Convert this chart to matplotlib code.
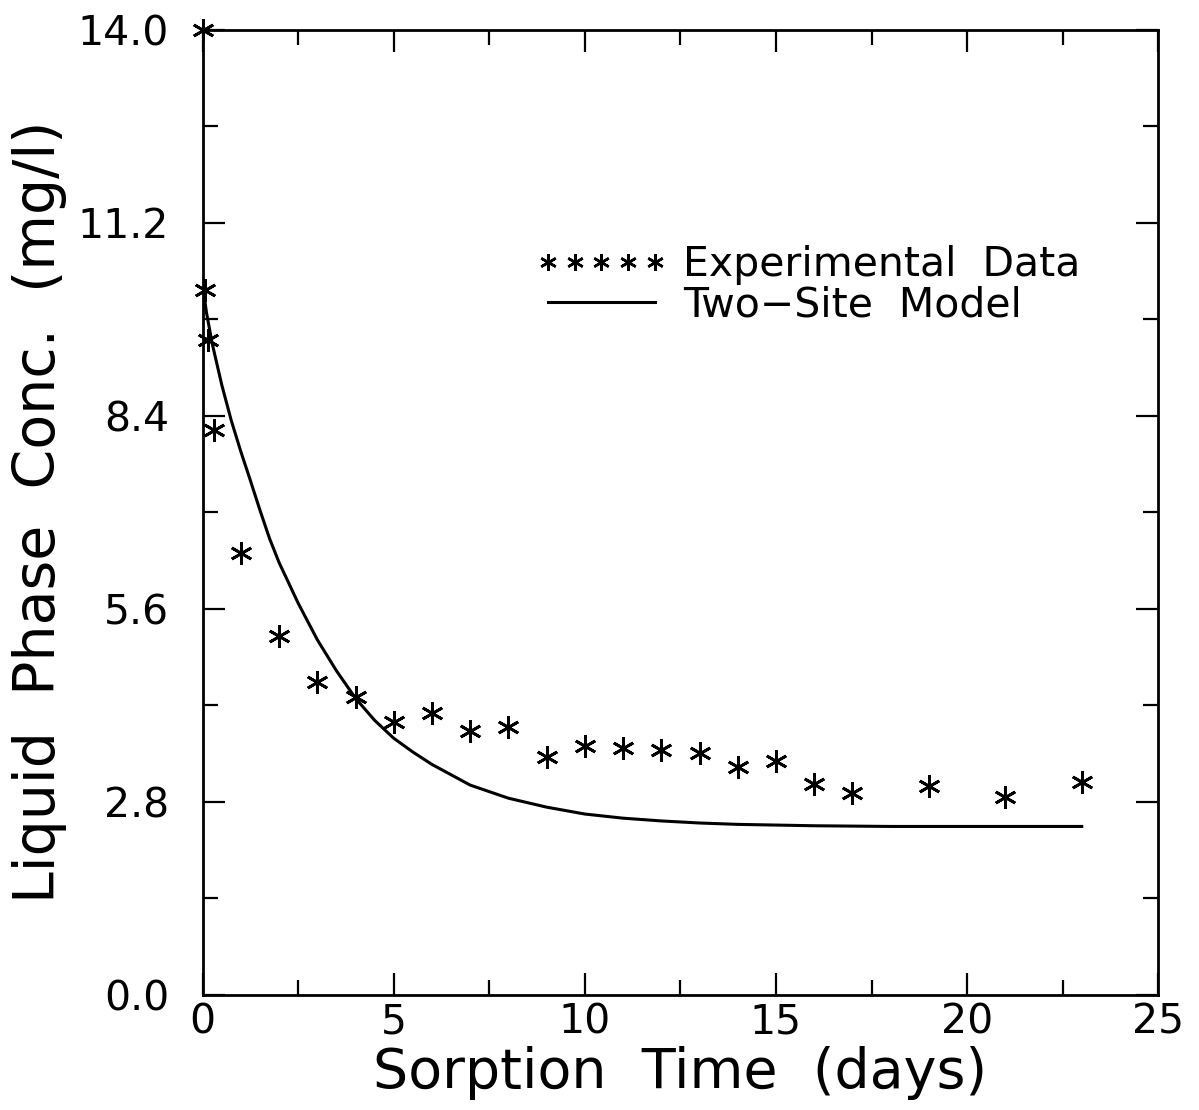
import numpy as np
import matplotlib
matplotlib.use('Agg')
import matplotlib.pyplot as plt
from matplotlib.lines import Line2D
from matplotlib.ticker import MultipleLocator

t_exp = [0.0, 0.05, 0.15, 0.3, 1, 2, 3, 4, 5, 6, 7, 8, 9, 10, 11, 12, 13, 14, 15, 16, 17, 19, 21, 23]
c_exp = [14.0, 10.23, 9.50, 8.20, 6.41, 5.21, 4.53, 4.32, 3.95, 4.09, 3.82, 3.89, 3.45, 3.61,
         3.58, 3.55, 3.50, 3.31, 3.39, 3.05, 2.93, 3.03, 2.87, 3.09]

# Two-site model curve
t_model = [0, 0.1, 0.25, 0.5, 0.75, 1, 1.25, 1.5, 1.75, 2, 2.5, 3, 3.5, 4, 4.5, 5, 5.5, 6,
           7, 8, 9, 10, 11, 12, 13, 14, 16, 18, 20, 23]
c_model = [10.30, 9.90, 9.45, 8.85, 8.33, 7.88, 7.46, 7.03, 6.62, 6.27, 5.68, 5.15, 4.70, 4.30,
           3.98, 3.72, 3.52, 3.34, 3.04, 2.85, 2.72, 2.62, 2.56, 2.52, 2.49, 2.47, 2.45, 2.44,
           2.44, 2.44]

xticks = [0, 5, 10, 15, 20, 25]
yticks = [0.0, 2.8, 5.6, 8.4, 11.2, 14.0]

fig = plt.figure(figsize=(11.99, 11.10), dpi=100)
ax = fig.add_axes([0.169, 0.104, 0.797, 0.869])

# asterisk marker: vertical stem plus two diagonals
asterisk = (6, 2, 0)
ax.plot(t_model, c_model, color='black', lw=2.2)
ax.plot(t_exp, c_exp, linestyle='none', marker=asterisk, ms=16, mew=2.0,
        color='black', clip_on=False)

ax.set_xlim(0, 25)
ax.set_ylim(0, 14)
ax.set_xticks(xticks)
ax.set_yticks(yticks)
ax.set_yticklabels([f'{v:.1f}' for v in yticks])
ax.xaxis.set_minor_locator(MultipleLocator(2.5))
ax.yaxis.set_minor_locator(MultipleLocator(1.4))

ax.tick_params(which='both', direction='in', top=True, right=True, width=1.6, labelsize=29.5)
ax.tick_params(which='major', length=16)
ax.tick_params(which='minor', length=11)
ax.tick_params(axis='x', pad=6)
ax.tick_params(axis='y', pad=24)
for s in ax.spines.values():
    s.set_linewidth(2.0)

ax.set_xlabel('Sorption  Time  (days)', fontsize=40, labelpad=2)
ax.set_ylabel('Liquid  Phase  Conc.  (mg/l)', fontsize=41, labelpad=8)

handles = [Line2D([], [], linestyle='none', marker=asterisk, ms=12, mew=1.8, color='black'),
           Line2D([], [], color='black', lw=2.2)]
ax.legend(handles, ['Experimental  Data', 'Two\u2212Site  Model'], numpoints=5,
          frameon=False, fontsize=29.5, handlelength=3.2, handletextpad=0.4,
          labelspacing=0.0, loc='upper left', bbox_to_anchor=(0.31, 0.815))

fig.savefig('out.png', dpi=100)
